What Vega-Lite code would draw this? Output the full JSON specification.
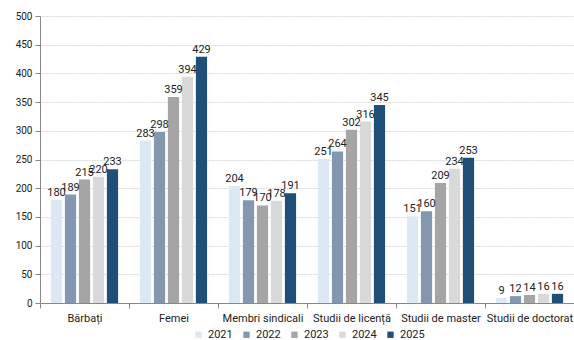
{
  "$schema": "https://vega.github.io/schema/vega-lite/v6.json",
  "width": 534,
  "height": 287,
  "autosize": "none",
  "padding": {"left": 40, "top": 16, "right": 0, "bottom": 37},
  "config": {
    "font": "Roboto",
    "view": {"stroke": null},
    "axis": {"labelFont": "Roboto", "labelColor": "#222", "titleFont": "Roboto"}
  },
  "data": {
    "values": [
      {"cat": "Bărbați", "year": "2021", "v": 180},
      {"cat": "Bărbați", "year": "2022", "v": 189},
      {"cat": "Bărbați", "year": "2023", "v": 215},
      {"cat": "Bărbați", "year": "2024", "v": 220},
      {"cat": "Bărbați", "year": "2025", "v": 233},
      {"cat": "Femei", "year": "2021", "v": 283},
      {"cat": "Femei", "year": "2022", "v": 298},
      {"cat": "Femei", "year": "2023", "v": 359},
      {"cat": "Femei", "year": "2024", "v": 394},
      {"cat": "Femei", "year": "2025", "v": 429},
      {"cat": "Membri sindicali", "year": "2021", "v": 204},
      {"cat": "Membri sindicali", "year": "2022", "v": 179},
      {"cat": "Membri sindicali", "year": "2023", "v": 170},
      {"cat": "Membri sindicali", "year": "2024", "v": 178},
      {"cat": "Membri sindicali", "year": "2025", "v": 191},
      {"cat": "Studii de licență", "year": "2021", "v": 251},
      {"cat": "Studii de licență", "year": "2022", "v": 264},
      {"cat": "Studii de licență", "year": "2023", "v": 302},
      {"cat": "Studii de licență", "year": "2024", "v": 316},
      {"cat": "Studii de licență", "year": "2025", "v": 345},
      {"cat": "Studii de master", "year": "2021", "v": 151},
      {"cat": "Studii de master", "year": "2022", "v": 160},
      {"cat": "Studii de master", "year": "2023", "v": 209},
      {"cat": "Studii de master", "year": "2024", "v": 234},
      {"cat": "Studii de master", "year": "2025", "v": 253},
      {"cat": "Studii de doctorat", "year": "2021", "v": 9},
      {"cat": "Studii de doctorat", "year": "2022", "v": 12},
      {"cat": "Studii de doctorat", "year": "2023", "v": 14},
      {"cat": "Studii de doctorat", "year": "2024", "v": 16},
      {"cat": "Studii de doctorat", "year": "2025", "v": 16}
    ]
  },
  "encoding": {
    "x": {
      "field": "cat", "type": "nominal", "sort": null,
      "scale": {"paddingInner": 0, "paddingOuter": 0},
      "axis": {"title": null, "labelAngle": 0, "labelFontSize": 11, "tickBand": "extent", "domainColor": "#888", "tickColor": "#888", "tickSize": 5, "labelPadding": 4}
    },
    "xOffset": {
      "field": "year", "type": "nominal",
      "scale": {"paddingInner": 0.2, "paddingOuter": 0.78}
    },
    "y": {
      "field": "v", "type": "quantitative",
      "scale": {"domain": [0, 500], "nice": false},
      "axis": {"title": null, "values": [0, 50, 100, 150, 200, 250, 300, 350, 400, 450, 500], "labelFontSize": 10, "domainColor": "#888", "tickColor": "#888", "tickSize": 5, "gridColor": "#d9d9d9", "gridDash": [2, 1], "labelPadding": 3}
    }
  },
  "layer": [
    {
      "mark": {"type": "bar"},
      "encoding": {
        "color": {
          "field": "year", "type": "nominal",
          "scale": {"domain": ["2021", "2022", "2023", "2024", "2025"], "range": ["#dde8f5", "#8497b0", "#a5a5a5", "#d9d9d9", "#1f4e79"]},
          "legend": {"title": null, "orient": "none", "direction": "horizontal", "legendX": 153, "legendY": 313, "symbolType": "square", "symbolSize": 40, "labelOffset": 4, "labelFontSize": 11, "labelColor": "#222", "columnPadding": 8, "symbolStrokeWidth": 0}
        }
      }
    },
    {
      "mark": {"type": "text", "baseline": "bottom", "dy": -2, "fontSize": 11, "color": "#222"},
      "encoding": {"text": {"field": "v", "type": "quantitative"}}
    }
  ]
}
